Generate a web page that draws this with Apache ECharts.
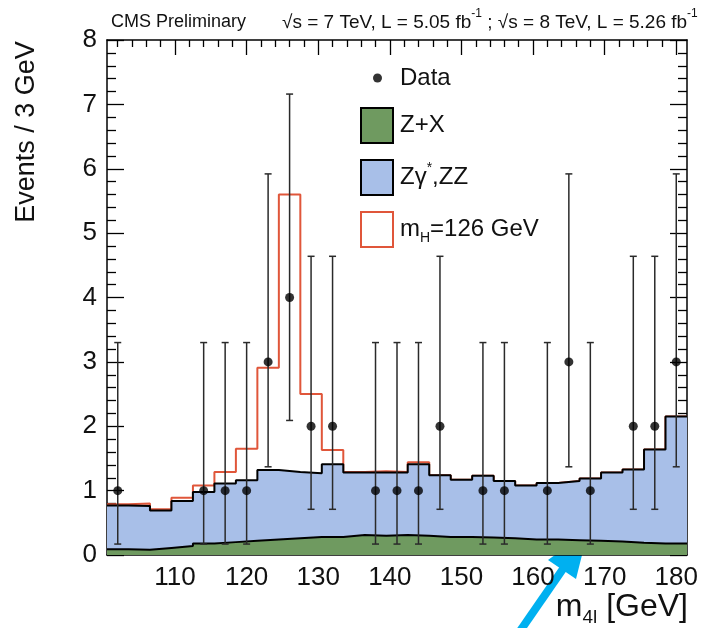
<!DOCTYPE html>
<html>
<head>
<meta charset="utf-8">
<script src="https://cdn.jsdelivr.net/npm/echarts@6/dist/echarts.min.js"></script>
<style>
  html, body { margin: 0; padding: 0; background: #fff; }
  #chart { width: 703px; height: 628px; }
</style>
</head>
<body>
<div id="chart"></div>
<script>
// Four-lepton invariant mass, 3 GeV bins (bin centres in GeV)
const binCenters = [102, 105, 108, 111, 114, 117, 120, 123, 126, 129, 132, 135, 138, 141,
                    144, 147, 150, 153, 156, 159, 162, 165, 168, 171, 174, 177, 180];
// Stacked expectation per bin (events / 3 GeV), each value is the top of its layer
const zxStack = [0.09, 0.08, 0.11, 0.14, 0.18, 0.20, 0.22, 0.24, 0.26, 0.28, 0.28, 0.31, 0.30, 0.31,
                 0.30, 0.28, 0.28, 0.27, 0.26, 0.24, 0.24, 0.23, 0.22, 0.21, 0.19, 0.18, 0.18];
const zzStack = [0.77, 0.76, 0.69, 0.84, 0.98, 1.11, 1.16, 1.32, 1.29, 1.27, 1.41, 1.28, 1.28, 1.28,
                 1.41, 1.24, 1.17, 1.23, 1.15, 1.08, 1.12, 1.15, 1.19, 1.28, 1.33, 1.64, 2.15];
const higgsStack = [0.79, 0.80, 0.71, 0.89, 1.08, 1.29, 1.65, 2.91, 5.60, 2.50, 1.63, 1.29, 1.30, 1.29,
                    1.44, 1.24, 1.17, 1.23, 1.15, 1.08, 1.12, 1.15, 1.19, 1.28, 1.33, 1.64, 2.15];

// Observed events (non-empty bins) with their asymmetric Poisson intervals
const dataMass   = [102, 114, 117, 120, 123, 126, 129, 132, 138, 141, 144, 147, 153, 156, 162, 165, 168, 174, 177, 180];
const dataCounts = [1, 1, 1, 1, 3, 4, 2, 2, 1, 1, 1, 2, 1, 1, 1, 3, 1, 2, 2, 3];
const dataErrLow = [0.17, 0.17, 0.17, 0.17, 1.37, 2.09, 0.71, 0.71, 0.17, 0.17, 0.17, 0.71, 0.17, 0.17, 0.17, 1.37, 0.17, 0.71, 0.71, 1.37];
const dataErrHigh = [3.30, 3.30, 3.30, 3.30, 5.92, 7.16, 4.64, 4.64, 3.30, 3.30, 3.30, 4.64, 3.30, 3.30, 3.30, 5.92, 3.30, 4.64, 4.64, 5.92];

// Axis tick labels
const xTickLabels = [110, 120, 130, 140, 150, 160, 170, 180];
const yTickLabels = [0, 1, 2, 3, 4, 5, 6, 7, 8];

const FONT = '"Liberation Sans", Arial, Helvetica, sans-serif';
const GREEN = '#6f9a60';
const BLUE = '#a8bfe8';
const RED = '#e0563a';
const INK = '#111';

const binWidth = 3;
const xMin = binCenters[0] - binWidth / 2;
const xMax = binCenters[binCenters.length - 1] + binWidth / 2;

// Histogram as a step line: one point at each bin's low edge plus the last high edge
function stepPoints(values) {
  const pts = binCenters.map((c, i) => [c - binWidth / 2, values[i]]);
  pts.push([xMax, values[values.length - 1]]);
  return pts;
}

// Minor x ticks every 2 GeV between the labelled ones
const xMinorTicks = [];
for (let v = xTickLabels[0] - 8; v <= xTickLabels[xTickLabels.length - 1]; v += 2) {
  if (v > xMin && v % 10 !== 0) xMinorTicks.push(v);
}

const tickLine = { color: '#000', width: 1.3 };
const gridBox = { left: 107, top: 40, width: 580, height: 515 };

function xAxisDef(gridIndex, position, ticks, tickLen, withLabels, withLine) {
  return {
    type: 'value', gridIndex, position, min: xMin, max: xMax,
    splitLine: { show: false },
    axisLine: { show: withLine, onZero: false, lineStyle: { color: '#000', width: 1.5 } },
    axisTick: { show: true, inside: true, length: tickLen, customValues: ticks, lineStyle: tickLine },
    axisLabel: withLabels
      ? { show: true, customValues: ticks, fontSize: 26, color: INK, fontFamily: FONT, margin: 10 }
      : { show: false }
  };
}

function yAxisDef(gridIndex, position, withLabels, visible) {
  return {
    type: 'value', gridIndex, position, min: yTickLabels[0], max: yTickLabels[yTickLabels.length - 1],
    interval: 1, show: visible,
    splitLine: { show: false },
    axisLine: { show: true, onZero: false, lineStyle: { color: '#000', width: 1.5 } },
    axisTick: { show: true, inside: true, length: 17, lineStyle: tickLine },
    minorTick: { show: true, splitNumber: 5, length: 9, lineStyle: tickLine },
    axisLabel: withLabels
      ? { show: true, fontSize: 26, color: INK, fontFamily: FONT, margin: 10 }
      : { show: false }
  };
}

const legendText = {
  'Z+X': '{t|Z+X}',
  'ZZ': '{t|Zγ}{sup|*}{t|,ZZ}',
  'Higgs': '{t|m}{sub|H}{t|=126 GeV}'
};

const option = {
  backgroundColor: '#fff',
  animation: false,
  grid: [Object.assign({}, gridBox), Object.assign({}, gridBox)],
  xAxis: [
    xAxisDef(0, 'bottom', xTickLabels, 15, true, true),
    xAxisDef(0, 'top', xTickLabels, 15, false, true),
    xAxisDef(1, 'bottom', xMinorTicks, 7, false, false),
    xAxisDef(1, 'top', xMinorTicks, 7, false, false)
  ],
  yAxis: [
    yAxisDef(0, 'left', true, true),
    yAxisDef(0, 'right', false, true),
    yAxisDef(1, 'left', false, false)
  ],
  legend: [
    {
      data: [{ name: 'Data', icon: 'circle' }],
      left: 373, top: 66, padding: 0,
      itemWidth: 9, itemHeight: 9,
      selectedMode: false,
      textStyle: { fontSize: 24, color: INK, fontFamily: FONT, padding: [0, 0, 0, 13] }
    },
    {
      data: [
        { name: 'Z+X', icon: 'rect', itemStyle: { color: GREEN, borderColor: '#000', borderWidth: 2 } },
        { name: 'ZZ', icon: 'rect', itemStyle: { color: BLUE, borderColor: '#000', borderWidth: 2 } },
        { name: 'Higgs', icon: 'rect', itemStyle: { color: '#fff', borderColor: RED, borderWidth: 2 } }
      ],
      orient: 'vertical', left: 360, top: 107, padding: 0,
      itemWidth: 32, itemHeight: 35, itemGap: 15,
      selectedMode: false,
      formatter: name => legendText[name],
      textStyle: {
        color: INK, fontFamily: FONT, padding: [0, 0, 0, 2],
        rich: {
          t: { fontSize: 24, fontFamily: FONT, color: INK, lineHeight: 32 },
          sup: { fontSize: 14, fontFamily: FONT, color: INK, lineHeight: 14, verticalAlign: 'top' },
          sub: { fontSize: 14, fontFamily: FONT, color: INK, lineHeight: 14, verticalAlign: 'bottom' }
        }
      }
    }
  ],
  series: [
    {
      // Z+X plus Zγ*,ZZ: blue layer down to the axis, its black outline on top
      name: 'ZZ', type: 'line', step: 'end',
      data: stepPoints(zzStack),
      symbol: 'none', z: 2,
      lineStyle: { color: '#000', width: 2 },
      areaStyle: { color: BLUE, opacity: 1 }
    },
    {
      // full expectation including the 126 GeV signal, outline only
      name: 'Higgs', type: 'line', step: 'end',
      data: stepPoints(higgsStack),
      symbol: 'none', z: 1,
      lineStyle: { color: RED, width: 2 }
    },
    {
      name: 'Z+X', type: 'line', step: 'end',
      data: stepPoints(zxStack),
      symbol: 'none', z: 3,
      lineStyle: { color: '#000', width: 2 },
      areaStyle: { color: GREEN, opacity: 1 }
    },
    {
      name: 'DataErrors', type: 'custom', z: 9,
      data: dataMass.map((m, i) => [m, dataErrLow[i], dataErrHigh[i]]),
      encode: { x: 0, y: [1, 2] },
      renderItem(params, api) {
        const x = api.value(0);
        const lo = api.coord([x, api.value(1)]);
        const hi = api.coord([x, api.value(2)]);
        const cap = 3.5;
        const style = { stroke: '#2a2a2a', lineWidth: 1.5 };
        return {
          type: 'group',
          children: [
            { type: 'line', shape: { x1: lo[0], y1: lo[1], x2: hi[0], y2: hi[1] }, style },
            { type: 'line', shape: { x1: lo[0] - cap, y1: lo[1], x2: lo[0] + cap, y2: lo[1] }, style },
            { type: 'line', shape: { x1: hi[0] - cap, y1: hi[1], x2: hi[0] + cap, y2: hi[1] }, style }
          ]
        };
      }
    },
    {
      name: 'Data', type: 'scatter', z: 10,
      data: dataMass.map((m, i) => [m, dataCounts[i]]),
      symbol: 'circle', symbolSize: 9,
      itemStyle: { color: '#000' }
    }
  ],
  graphic: [
    {
      type: 'text', left: 111, top: 13,
      style: { text: 'CMS Preliminary', font: '18px ' + FONT, fill: INK }
    },
    {
      type: 'text', left: 282, top: 8,
      style: {
        text: '{t|√s = 7 TeV, L = 5.05 fb}{sup|-1}{t| ; √s = 8 TeV, L = 5.26 fb}{sup|-1}',
        fill: INK,
        rich: {
          t: { fontSize: 19, fontFamily: FONT, fill: INK, lineHeight: 30 },
          sup: { fontSize: 12, fontFamily: FONT, fill: INK, lineHeight: 14, verticalAlign: 'top' }
        }
      }
    },
    {
      type: 'text', x: 27, y: 132, rotation: Math.PI / 2,
      style: { text: 'Events / 3 GeV', font: '27px ' + FONT, fill: INK, align: 'center', verticalAlign: 'middle' }
    },
    {
      type: 'text', right: 15, top: 591,
      style: {
        text: '{t|m}{sub|4l}{t| [GeV]}',
        rich: {
          t: { fontSize: 32, fontFamily: FONT, fill: INK, lineHeight: 40 },
          sub: { fontSize: 19, fontFamily: FONT, fill: INK, lineHeight: 19, verticalAlign: 'bottom' }
        }
      }
    },
    {
      type: 'group', z: 100,
      children: [
        { type: 'line', shape: { x1: 518, y1: 634, x2: 565, y2: 566 }, style: { stroke: '#00b0f0', lineWidth: 8 } },
        { type: 'polygon', shape: { points: [[588, 531], [548, 560], [576, 579]] }, style: { fill: '#00b0f0' } }
      ]
    }
  ]
};

const chart = echarts.init(document.getElementById('chart'), null, { renderer: 'canvas' });
chart.setOption(option);
</script>
</body>
</html>
